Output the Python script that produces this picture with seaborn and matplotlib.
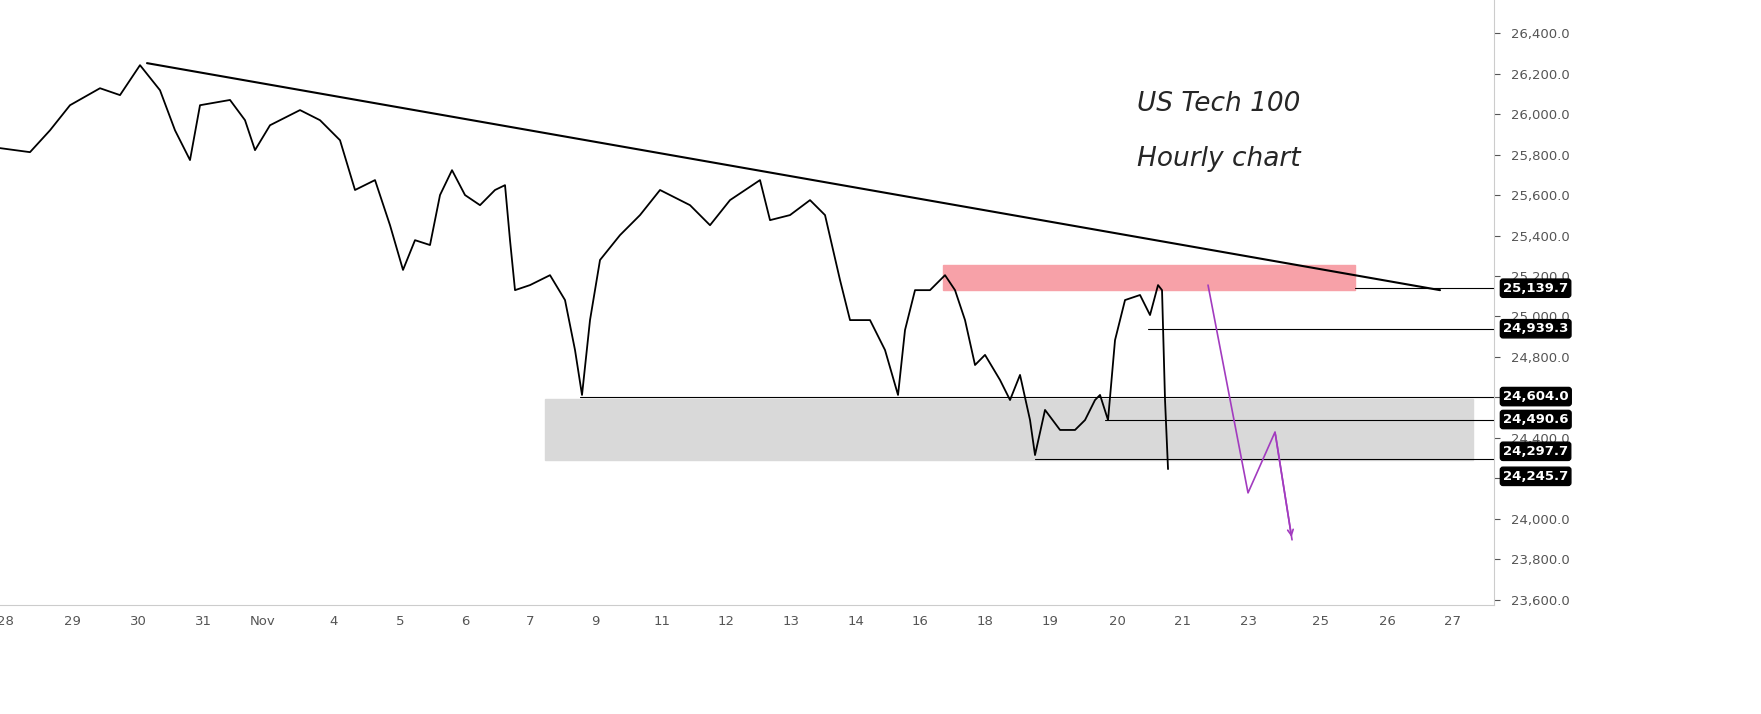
import matplotlib
matplotlib.use("Agg")
import matplotlib.pyplot as plt
import seaborn as sns
import pandas as pd

# price path (x = bar position on uniform time axis, close price)
bar_x = [0,30,50,70,100,120,140,160,175,190,200,230,245,255,270,300,320,340,355,375,390,403,415,430,440,452,465,480,495,505,510,515,530,550,565,575,582,590,600,620,640,660,690,710,730,760,770,790,810,825,840,850,870,885,898,905,915,930,945,955,965,975,985,1000,1010,1020,1030,1035,1045,1060,1075,1085,1095,1100,1108,1115,1125,1140,1150,1158,1162,1165,1168]
close = [25832,25812,25920,26044,26128,26094,26242,26118,25920,25773,26044,26070,25970,25822,25945,26020,25970,25871,25625,25674,25451,25230,25377,25353,25600,25723,25600,25550,25625,25649,25377,25130,25155,25204,25081,24834,24612,24982,25279,25402,25501,25625,25550,25451,25575,25674,25476,25501,25575,25501,25180,24982,24982,24834,24612,24933,25130,25130,25204,25130,24982,24760,24810,24686,24587,24711,24488,24315,24538,24439,24439,24488,24587,24612,24488,24883,25081,25106,25007,25155,25130,24587,24245.7]

tick_pos = [5,72,138,203,263,334,400,465,530,595,662,726,791,856,920,985,1050,1117,1182,1248,1320,1387,1452]
tick_lab = ["28","29","30","31","Nov","4","5","6","7","9","11","12","13","14","16","18","19","20","21","23","25","26","27"]
yticks = list(range(23600, 26401, 200))

trend = ([147, 1440], [26252, 25130])
levels = [(25139.7, 1355), (24939.3, 1148), (24604.0, 580), (24490.6, 1105), (24297.7, 1035)]
labels = [25139.7, 24939.3, 24604.0, 24490.6, 24297.7, 24245.7]
label_shift = {24297.7: 0.012, 24245.7: -0.012}
proj_x = [1208, 1248, 1275, 1292]
proj_y = [25155, 24128, 24429, 23896]

sns.set_style("white")
fig = plt.figure(figsize=(17.61, 7.14), dpi=100)
ax = fig.add_axes([0, 0.1527, 0.8484, 0.847])
df = pd.DataFrame({"x": bar_x, "p": close})
sns.lineplot(data=df, x="x", y="p", ax=ax, color="black", lw=1.3)

ax.add_patch(plt.Rectangle((943, 25130), 412, 124, color="#f7a1a8", zorder=0))
ax.add_patch(plt.Rectangle((545, 24291), 928, 301, color="#d9d9d9", zorder=0))
ax.plot(*trend, color="black", lw=1.5)
for p, x0 in levels:
    ax.plot([x0, 1494], [p, p], color="black", lw=0.8)
ax.plot(proj_x, proj_y, color="#a23bbf", lw=1.2)
ax.annotate("", xy=(proj_x[-1], proj_y[-1]), xytext=(proj_x[-2], proj_y[-2]),
            arrowprops=dict(arrowstyle="->", color="#a23bbf", lw=1.2))

ax.text(1137, 26050, "US Tech 100", fontsize=19, style="italic", va="center")
ax.text(1137, 25780, "Hourly chart", fontsize=19, style="italic", va="center")

ax.set_xlim(0, 1494)
ax.set_ylim(23574, 26563)
ax.set_xticks(tick_pos)
ax.set_xticklabels(tick_lab)
ax.yaxis.tick_right()
ax.set_yticks(yticks)
ax.set_yticklabels([f"{v:,.1f}" for v in yticks])
ax.tick_params(colors="#555555", labelsize=9.5, length=4)
ax.tick_params(axis="y", pad=8)
for s in ["top", "left"]:
    ax.spines[s].set_visible(False)
for s in ["right", "bottom"]:
    ax.spines[s].set_color("#cccccc")
ax.set_xlabel(""); ax.set_ylabel("")
for v in labels:
    yy = (v - 23574) / (26563 - 23574) + label_shift.get(v, 0)
    ax.text(1.006, yy, f"{v:,.1f}", transform=ax.transAxes,
            fontsize=9.5, color="white", weight="bold", va="center", ha="left",
            bbox=dict(boxstyle="round,pad=0.2", fc="black", ec="black"))
fig.savefig("out.png", dpi=100)
